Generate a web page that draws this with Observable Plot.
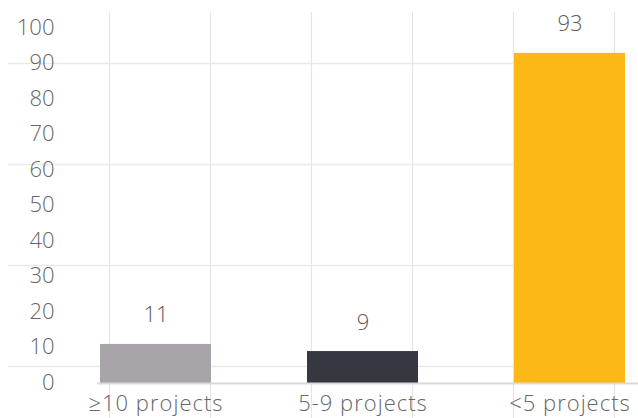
<!DOCTYPE html>
<html>
<head>
<meta charset="utf-8">
<script src="https://cdn.jsdelivr.net/npm/d3@7"></script>
<script src="https://cdn.jsdelivr.net/npm/@observablehq/plot@0.6"></script>
<style>
  html, body { margin: 0; padding: 0; background: #fff; }
  #chart { position: relative; width: 638px; height: 418px; overflow: hidden; }
  #chart svg { position: absolute; left: 0; top: 0; background: transparent; }
  #chart svg g[aria-label="x-axis tick label"] text { letter-spacing: 1px; }
</style>
</head>
<body>
<div id="chart"></div>
<script>
const categories = ["≥10 projects", "5-9 projects", "<5 projects"];
const values = [11, 9, 93];
const yTicks = [0, 10, 20, 30, 40, 50, 60, 70, 80, 90, 100];
const gridRows = [0, 1, 2, 3];
const gridCols = [0, 1, 2, 3, 4, 5];

const data = categories.map((c, i) => ({category: c, value: values[i]}));
const font = "'Open Sans', Lato, sans-serif";

const grid = Plot.plot({
  width: 638,
  height: 418,
  marginTop: 12,
  marginBottom: 0,
  marginLeft: 8,
  marginRight: 24,
  x: {domain: [0, 5], range: [109, 614], axis: null},
  y: {domain: [0, 3], range: [366, 63], axis: null},
  style: {background: "transparent"},
  marks: [
    Plot.ruleX(gridCols, {stroke: "#e4e4e4", strokeWidth: 1.2}),
    Plot.ruleY(gridRows, {stroke: "#e9e9e9", strokeWidth: 1.6})
  ]
});

const chart = Plot.plot({
  width: 638,
  height: 418,
  marginTop: 28,
  marginBottom: 35,
  marginLeft: 60,
  marginRight: 0,
  style: {background: "transparent", fontFamily: font, fontSize: "22px", fontWeight: 300, color: "#666"},
  x: {domain: categories, range: [99, 626], paddingInner: 0.466, paddingOuter: 0, label: null},
  y: {domain: [0, 100], label: null},
  color: {domain: categories, range: ["#a8a3a8", "#353841", "#fbb817"]},
  marks: [
    Plot.barY(data, {x: "category", y: "value", fill: "category"}),
    Plot.ruleY([0], {stroke: "#d9d9d9", strokeWidth: 2, insetLeft: 37}),
    Plot.text(data, {x: "category", y: "value", text: d => String(d.value), dy: -29, fill: "#5a5a5a", fontSize: 22}),
    Plot.axisY({ticks: yTicks, tickSize: 0, tickPadding: 6, tickFormat: d => String(d), label: null, fontSize: 22, dy: -1}),
    Plot.axisX({tickSize: 0, tickPadding: 12, label: null, fontSize: 22})
  ]
});

document.getElementById("chart").append(grid, chart);
</script>
</body>
</html>
